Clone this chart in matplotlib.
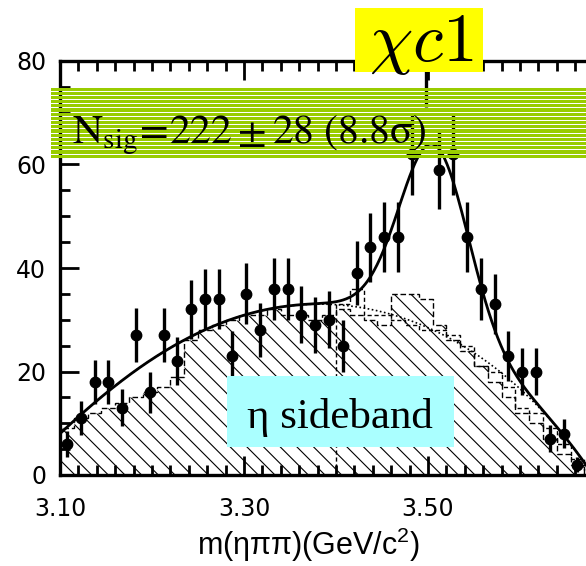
import numpy as np
import matplotlib
matplotlib.use("Agg")
import matplotlib.pyplot as plt
from matplotlib.patches import Rectangle

# m(eta pi pi) spectrum, 15 MeV bins starting at 3.10 GeV
BIN_LO = 3.10
BIN_W = 0.015
counts = [6, 11, 18, 18, 13, 27, 16, 27, 22, 32,
          34, 34, 23, 35, 28, 36, 36, 31, 29, 30,
          25, 39, 44, 46, 46, 62, 80, 59, 62, 46,
          36, 33, 23, 20, 20, 7, 8, 2]

# eta sideband histogram (hatched)
sideband = [9, 11, 12, 13, 14, 15, 16, 17, 19, 26,
            28, 29, 30, 31, 31, 32, 31, 31, 30, 31,
            32, 31, 30, 29, 35, 35, 34, 29, 26, 24,
            21, 18, 15, 12, 10, 7, 4, 2]

# second background estimate, drawn from bin 20 onward
other_bg_start = 20
other_bg = [33, 36, 31, 31, 30, 29, 28, 28, 27, 25,
            21, 20, 17, 13, 12, 9, 6, 3]

# fit: smooth background + gaussian signal
N_SIG = 222
N_SIG_ERR = 28
SIGNIF = 8.8
SIG_MASS = 3.5065
SIG_WIDTH = 0.037
bg_m = [3.10, 3.15, 3.20, 3.25, 3.30, 3.35, 3.40, 3.45, 3.50, 3.55, 3.60, 3.63, 3.65, 3.67]
bg_y = [8.0, 15.8, 22.3, 27.5, 31.0, 32.5, 33.0, 31.5, 28.5, 23.5, 17.0, 11.0, 7.0, 2.5]

x_major = [3.10, 3.30, 3.50]
x_labels = ["3.10", "3.30", "3.50"]
y_major = [0, 20, 40, 60, 80]

LABEL_BOX = "#99CC00"
STATE_BOX = "#FFFF00"
SB_BOX = "#AAFFFF"

plt.rcParams["mathtext.fontset"] = "custom"
plt.rcParams["mathtext.rm"] = "Liberation Sans"
plt.rcParams["hatch.linewidth"] = 0.8

fig = plt.figure(figsize=(5.86, 5.66), dpi=100, facecolor="white")
ax = fig.add_axes([60 / 586, 91 / 566, 552 / 586, 414 / 566])
ax.set_xlim(3.10, 3.70)
ax.set_ylim(0, 80)

n = len(counts)
edges = BIN_LO + BIN_W * np.arange(n + 1)
centers = 0.5 * (edges[:-1] + edges[1:])
counts = np.array(counts, dtype=float)

ax.stairs(sideband, edges, fill=True, facecolor="white", edgecolor="black",
          hatch="\\\\", linewidth=1.0, linestyle=(0, (4, 2)), zorder=1)
ax.stairs(other_bg, edges[other_bg_start:], color="black", linewidth=1.0,
          linestyle=(0, (3, 2)), zorder=2)

m = np.linspace(3.10, 3.675, 500)
bg = np.clip(np.polyval(np.polyfit(bg_m, bg_y, 5), m), 0, None)
sig = N_SIG * BIN_W / (np.sqrt(2 * np.pi) * SIG_WIDTH) * np.exp(-0.5 * ((m - SIG_MASS) / SIG_WIDTH) ** 2)
ax.plot(m, bg, color="black", linewidth=1.2, linestyle=(0, (1, 1.5)), zorder=3)
ax.plot(m, bg + sig, color="black", linewidth=2.0, zorder=4)

ax.errorbar(centers, counts, yerr=np.sqrt(counts), fmt="o", color="black",
            markersize=7.5, elinewidth=2.4, capsize=0, zorder=5)

# axes styling
ax.set_xticks(x_major + [3.70])
ax.set_xticklabels(x_labels + [""])
ax.set_xticks(np.arange(3.10, 3.70, 0.02), minor=True)
ax.set_yticks(y_major)
ax.set_yticks(np.arange(0, 81, 5), minor=True)
ax.tick_params(which="both", direction="in", top=True, right=True, width=2.0,
               labelsize=17, colors="black")
ax.tick_params(which="major", length=14)
ax.tick_params(which="minor", length=7)
ax.tick_params(axis="x", pad=16)
ax.tick_params(axis="y", pad=10)
for lab in ax.get_xticklabels() + ax.get_yticklabels():
    lab.set_family("DejaVu Sans")
for sp in ax.spines.values():
    sp.set_linewidth(2.4)

ax.set_xlabel("m(\u03b7\u03c0\u03c0)(GeV/c$^{2}$)", fontsize=22, family="Liberation Sans")
ax.xaxis.set_label_coords((309 - 60) / 552, -0.122)

# signal yield banner (striped)
band_lo, band_hi = 61.3, 74.8
stripe = 0.81
y0 = band_lo
while y0 < band_hi:
    ax.add_patch(Rectangle((3.0902, y0), 0.65, min(0.62, band_hi - y0),
                           facecolor=LABEL_BOX, edgecolor="none",
                           clip_on=False, zorder=8))
    y0 += stripe
ax.text(3.113, 64.0,
        r"$\mathrm{N_{sig}\!=\!%d\pm%d\ (%.1f\sigma)}$" % (N_SIG, N_SIG_ERR, SIGNIF),
        fontsize=30, math_fontfamily="stix", color="black", va="baseline",
        ha="left", zorder=9, clip_on=False)

# state label
ax.add_patch(Rectangle((3.4207, 77.9), 0.1391, 12.3, facecolor=STATE_BOX,
                       edgecolor="none", clip_on=False, zorder=8))
ax.text(3.4924, 80.0, r"$\chi c1$", fontsize=50, math_fontfamily="cm",
        ha="center", va="baseline", zorder=9, clip_on=False)

# sideband label
ax.add_patch(Rectangle((3.2815, 5.4), 0.2468, 13.7, facecolor=SB_BOX,
                       edgecolor="none", zorder=8))
ax.text(3.4043, 9.1, "\u03b7 sideband", fontsize=31, family="Liberation Serif",
        ha="center", va="baseline", zorder=9)

fig.savefig("out.png", dpi=100, facecolor="white")
